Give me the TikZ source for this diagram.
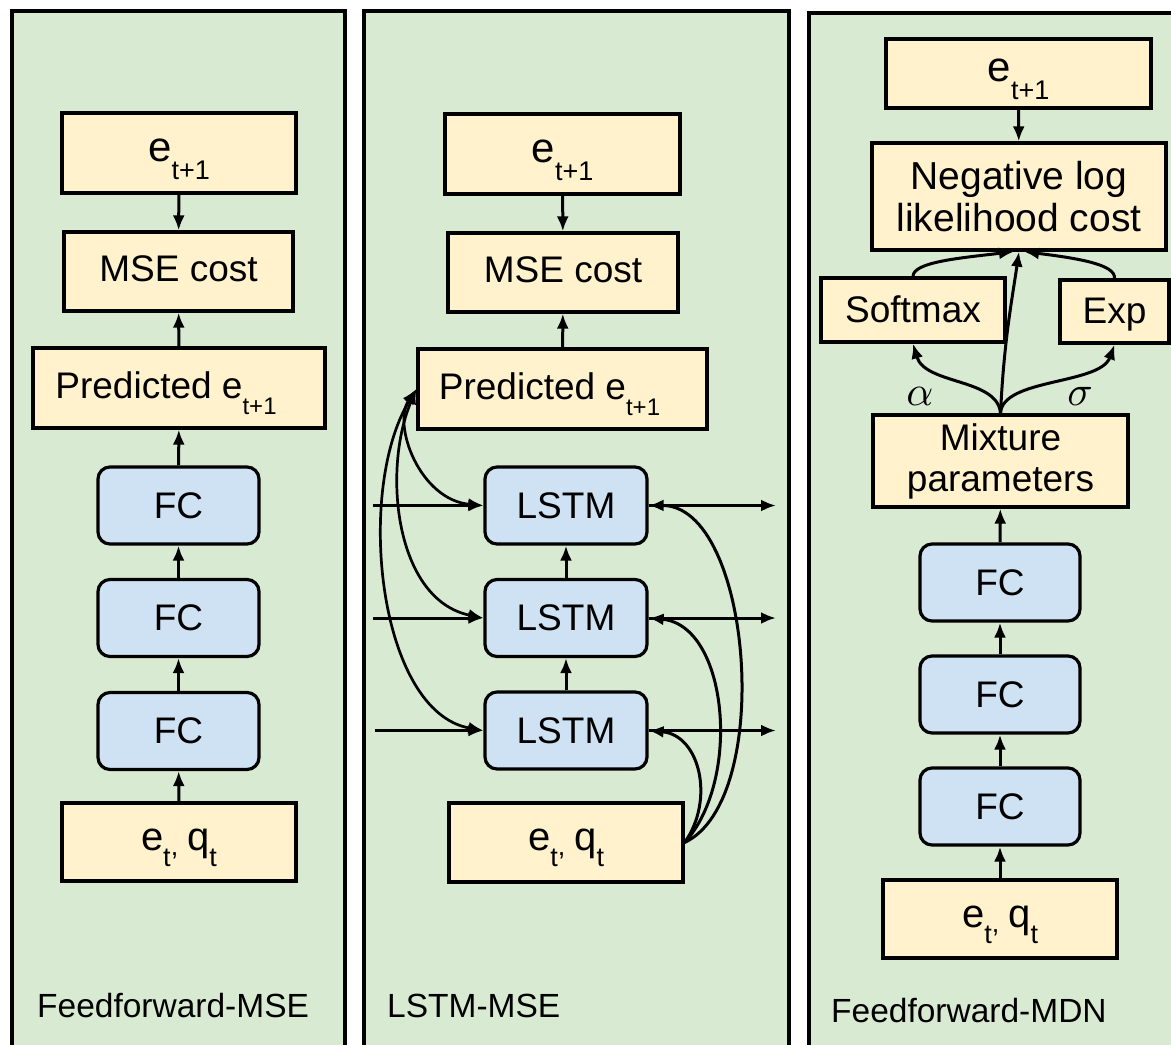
\documentclass[tikz,border=0pt]{standalone}
\usepackage{fontspec}
\setmainfont{Liberation Sans}
\usetikzlibrary{arrows.meta}
\definecolor{panelgreen}{HTML}{D9EAD3}
\definecolor{boxyellow}{HTML}{FFF2CC}
\definecolor{boxblue}{HTML}{CFE2F3}
\newcommand{\ebig}[1]{{\fontsize{42}{46}\selectfont e}\raisebox{-18pt}{\fontsize{27}{32}\selectfont #1}}
\newcommand{\etq}{{\fontsize{40}{44}\selectfont e}\raisebox{-16pt}{\fontsize{27}{32}\selectfont t\raisebox{11pt}{,}}\hspace{9pt}{\fontsize{40}{44}\selectfont q}\raisebox{-16pt}{\fontsize{27}{32}\selectfont t}}
\newcommand{\pred}{Predicted e\raisebox{-16pt}{\fontsize{24}{28}\selectfont t+1}\rule{26pt}{0pt}}
\begin{document}
\begin{tikzpicture}[x=1pt,y=-1pt,
  panel/.style={draw=black, line width=3.2pt, fill=panelgreen},
  ybox/.style={draw=black, line width=3.2pt, fill=boxyellow, inner sep=0pt, text height=26pt, text depth=6pt, font=\fontsize{37}{42}\selectfont},
  ebox/.style={ybox, text height=30pt, text depth=14pt},
  mbox/.style={draw=black, line width=3.2pt, fill=boxyellow, inner sep=0pt, align=center, font=\fontsize{37}{41}\selectfont},
  bbox/.style={ybox, fill=boxblue, rounded corners=12pt, text height=25pt, text depth=0pt, minimum width=161pt, minimum height=77pt},
  arr/.style={line width=3pt, -{Latex[length=15pt,width=12pt]}},
  darr/.style={line width=2.7pt, {Latex[length=15pt,width=12pt]}-{Latex[length=15pt,width=12pt]}},
  lab/.style={anchor=base west, inner sep=0pt, font=\fontsize{33.5}{40}\selectfont},
  greek/.style={inner sep=0pt, scale=4.2}
]
\useasboundingbox (0,0) rectangle (1171,1045);
\fill[white] (0,0) rectangle (1171,1045);
\clip (0,0) rectangle (1171,1045);

% panels
\draw[panel] (12,11) rectangle (345,1070);
\draw[panel] (364,11) rectangle (789,1070);
\draw[panel] (809,13) rectangle (1200,1070);

% ---------- panel 1 ----------
\node[ebox, minimum width=234pt, minimum height=80pt] (e1) at (179,153) {\ebig{t+1}};
\node[ybox, minimum width=229pt, minimum height=79pt] (m1) at (178.5,271.5) {MSE cost};
\node[ybox, minimum width=292pt, minimum height=80pt] (p1) at (179,388) {\pred};
\node[bbox] (f1a) at (178.5,505.5) {FC};
\node[bbox] (f1b) at (178.5,618) {FC};
\node[bbox] (f1c) at (178.5,731) {FC};
\node[ebox, minimum width=234pt, minimum height=78pt] (in1) at (179,842) {\etq};
\draw[arr] (e1) -- (m1);
\draw[arr] (p1) -- (m1);
\draw[arr] (f1a) -- (p1);
\draw[arr] (f1b) -- (f1a);
\draw[arr] (f1c) -- (f1b);
\draw[arr] (in1) -- (f1c);
\node[lab] (t1) at (37,1017) {Feedforward-MSE};

% ---------- panel 2 ----------
\node[ebox, minimum width=235pt, minimum height=80pt] (e2) at (562.5,154) {\ebig{t+1}};
\node[ybox, minimum width=230pt, minimum height=79pt] (m2) at (563,272.5) {MSE cost};
\node[ybox, minimum width=289pt, minimum height=80pt] (p2) at (562.5,389) {\pred};
\node[bbox, minimum width=162pt] (l2a) at (566,505.5) {LSTM};
\node[bbox, minimum width=162pt] (l2b) at (566,618) {LSTM};
\node[bbox, minimum width=162pt] (l2c) at (566,730.5) {LSTM};
\node[ebox, minimum width=234pt, minimum height=79pt] (in2) at (566,842.5) {\etq};
\coordinate (s2a) at (373,505.5);
\coordinate (s2b) at (373,618);
\coordinate (s2c) at (375,730.5);
\coordinate (o2a) at (776,505.5);
\coordinate (o2b) at (776,618);
\coordinate (o2c) at (776,730.5);
\draw[arr] (e2) -- (m2);
\draw[arr] (p2) -- (m2);
\draw[arr] (l2b) -- (l2a);
\draw[arr] (l2c) -- (l2b);
\draw[arr] (s2a) -- (l2a.west);
\draw[arr] (s2b) -- (l2b.west);
\draw[arr] (s2c) -- (l2c.west);
\draw[arr] (l2a.east) -- (o2a);
\draw[arr] (l2b.east) -- (o2b);
\draw[arr] (l2c.east) -- (o2c);
\draw[darr] (p2.west) .. controls (392,425) and (420,500) .. (l2a.west);
\draw[darr] (p2.west) .. controls (382,470) and (395,600) .. (l2b.west);
\draw[darr] (p2.west) .. controls (355,490) and (378,712) .. (l2c.west);
\draw[arr] (in2.east) .. controls (715,800) and (700,735) .. (l2c.east);
\draw[arr] (in2.east) .. controls (742,780) and (728,625) .. (l2b.east);
\draw[arr] (in2.east) .. controls (775,800) and (752,505) .. (l2a.east);
\node[lab] (t2) at (387,1017) {LSTM-MSE};

% ---------- panel 3 ----------
\node[ebox, minimum width=265pt, minimum height=69pt] (e3) at (1018.5,73.5) {\ebig{t+1}};
\node[mbox, minimum width=294pt, minimum height=107pt, font=\fontsize{39}{42}\selectfont] (nll) at (1019,196.5) {Negative log\\likelihood cost};
\node[ybox, text height=24pt, text depth=0pt, minimum width=184pt, minimum height=64pt] (sm) at (913,310) {Softmax};
\node[ybox, text height=24pt, text depth=0pt, minimum width=109pt, minimum height=63pt] (ex) at (1114.5,311.5) {Exp};
\node[mbox, minimum width=255pt, minimum height=92pt] (mix) at (1000.5,461) {Mixture\\parameters};
\node[bbox, minimum width=160pt] (f3a) at (1000,582.5) {FC};
\node[bbox, minimum width=160pt] (f3b) at (1000,694.5) {FC};
\node[bbox, minimum width=160pt] (f3c) at (1000,806.5) {FC};
\node[ebox, minimum width=234pt, minimum height=78pt] (in3) at (1000,919) {\etq};
\draw[arr] (e3) -- (nll);
\draw[arr] (f3a) -- (mix);
\draw[arr] (f3b) -- (f3a);
\draw[arr] (f3c) -- (f3b);
\draw[arr] (in3) -- (f3c);
\draw[arr] (mix.north) .. controls (998,378) and (925,385) .. (sm.south);
\draw[arr] (mix.north) .. controls (1002,378) and (1100,385) .. (ex.south);
\draw[arr] (mix.north) .. controls (1004,340) and (1012,300) .. (nll.south);
\draw[arr] (sm.north) .. controls (913,262) and (960,258) .. ([xshift=-5pt]nll.south);
\draw[arr] (ex.north) .. controls (1116,264) and (1075,258) .. ([xshift=5pt]nll.south);
\node[greek] (alpha) at (920,396) {$\alpha$};
\node[greek] (sigma) at (1080,396) {$\sigma$};
\node[lab] (t3) at (831,1022) {Feedforward-MDN};
\end{tikzpicture}
\end{document}
